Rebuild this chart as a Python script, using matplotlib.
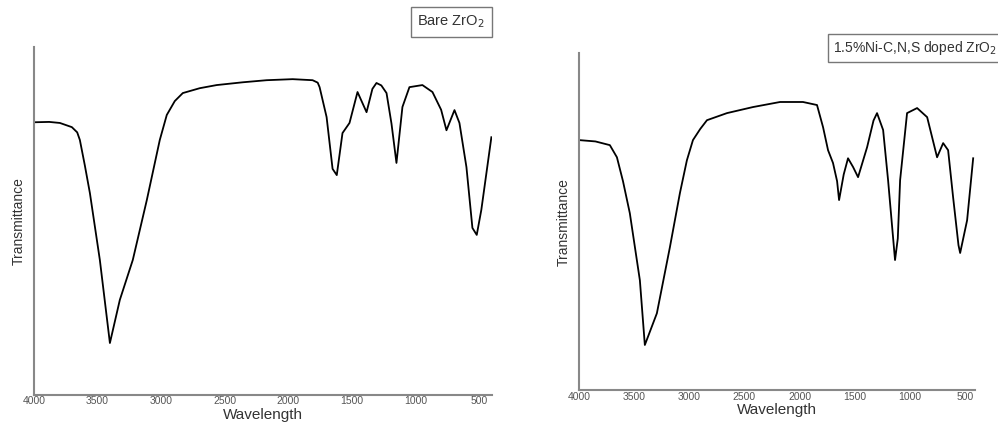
import matplotlib.pyplot as plt

plt.rcParams['font.family'] = ['Liberation Sans', 'DejaVu Sans']

# Bare ZrO2 spectrum (wavenumber, transmittance)
bare_wn = [4000, 3880, 3796, 3702, 3660, 3639, 3600, 3560, 3482, 3403, 3325, 3223,
           3113, 3011, 2956, 2893, 2830, 2697, 2564, 2359, 2171, 1967, 1810, 1770,
           1755, 1700, 1653, 1620, 1575, 1520, 1457, 1386, 1340, 1308, 1270, 1229,
           1190, 1151, 1104, 1049, 947, 868, 800, 758, 695, 656, 601, 554, 520, 484,
           405]
bare_t = [78.4, 78.5, 78.2, 77.0, 75.5, 73.3, 66.0, 58.0, 38.8, 14.9, 27.3, 38.8,
          56.0, 73.3, 80.5, 84.5, 86.8, 88.2, 89.1, 89.9, 90.5, 90.8, 90.5, 89.8,
          88.5, 79.9, 65.0, 63.2, 75.3, 78.2, 87.1, 81.3, 88.0, 89.7, 89.0, 86.8,
          78.0, 66.7, 82.8, 88.5, 89.1, 87.1, 82.0, 76.1, 81.9, 78.2, 65.5, 48.0,
          46.0, 53.2, 74.1]

# 1.5% Ni-C,N,S doped ZrO2 spectrum
doped_wn = [4000, 3850, 3719, 3655, 3600, 3538, 3447, 3402, 3293, 3175, 3084, 3021,
            2966, 2900, 2839, 2658, 2422, 2177, 1969, 1842, 1787, 1742, 1697, 1660,
            1642, 1600, 1561, 1515, 1470, 1388, 1330, 1298, 1243, 1198, 1135, 1110,
            1089, 1026, 935, 844, 754, 699, 654, 609, 560, 545, 482, 427]
doped_t = [74.2, 73.8, 72.7, 69.1, 62.0, 52.5, 32.6, 13.4, 22.8, 42.4, 58.5, 68.2,
           74.2, 77.5, 80.1, 82.2, 84.0, 85.5, 85.5, 84.6, 78.0, 71.2, 67.4, 62.0,
           56.4, 64.0, 68.8, 66.2, 63.2, 72.1, 80.0, 82.2, 77.2, 62.3, 38.6, 45.0,
           62.3, 82.2, 83.7, 81.0, 69.1, 73.3, 71.2, 57.3, 43.0, 40.7, 50.4, 68.8]

xticks = [4000, 3500, 3000, 2500, 2000, 1500, 1000, 500]

fig = plt.figure(figsize=(9.98, 4.25), dpi=100)
ax1 = fig.add_axes([0.034, 0.071, 0.459, 0.818])
ax2 = fig.add_axes([0.580, 0.082, 0.397, 0.793])

for ax, wn, t, xmax in [(ax1, bare_wn, bare_t, 400), (ax2, doped_wn, doped_t, 410)]:
    ax.plot(wn, t, color="black", lw=1.3)
    ax.set_xlim(4000, xmax)
    ax.set_ylim(0, 100)
    ax.set_xticks(xticks)
    ax.set_yticks([])
    ax.tick_params(axis="x", length=0, pad=1, labelsize=7.5, labelcolor="#555555")
    for s in ["top", "right"]:
        ax.spines[s].set_visible(False)
    for s in ["left", "bottom"]:
        ax.spines[s].set_color("#888888")
        ax.spines[s].set_linewidth(1.5)
    ax.set_xlabel("Wavelength", fontsize=11, color="#333333", labelpad=1)
    ax.set_ylabel("Transmittance", fontsize=10, color="#333333", labelpad=6)

fig.text(0.452, 0.948, "Bare ZrO$_2$", fontsize=10.5, color="#333333",
         ha="center", va="center",
         bbox=dict(boxstyle="square,pad=0.45", fc="white", ec="#777777", lw=1))
fig.text(0.835, 0.887, "1.5%Ni-C,N,S doped ZrO$_2$", fontsize=10, color="#333333",
         ha="left", va="center",
         bbox=dict(boxstyle="square,pad=0.35", fc="white", ec="#777777", lw=1))

fig.savefig("out.png", dpi=100)
